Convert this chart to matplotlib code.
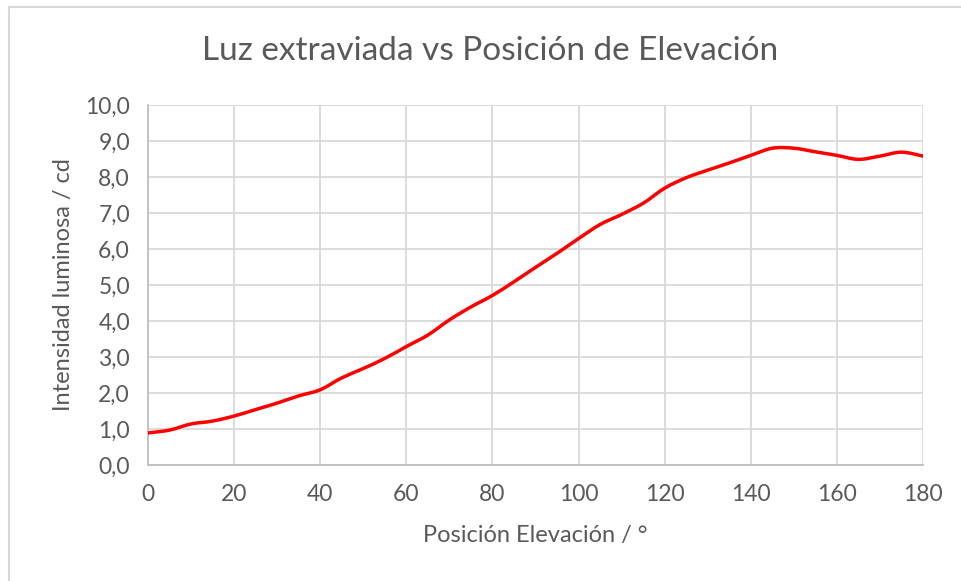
import matplotlib.pyplot as plt
from matplotlib.path import Path
from matplotlib.patches import PathPatch, Rectangle
import numpy as np

plt.rcParams['font.family'] = ['Lato', 'DejaVu Sans']

# Elevation position (deg) and luminous intensity (cd)
posicion = [0, 5, 10, 15, 20, 25, 30, 35, 40, 45, 50, 55, 60, 65, 70, 75, 80, 85, 90,
            95, 100, 105, 110, 115, 120, 125, 130, 135, 140, 145, 150, 155, 160, 165,
            170, 175, 180]
intensidad = [0.89, 0.97, 1.14, 1.22, 1.36, 1.54, 1.72, 1.92, 2.09, 2.42, 2.68, 2.96,
              3.29, 3.61, 4.03, 4.39, 4.71, 5.09, 5.49, 5.88, 6.29, 6.68, 6.96, 7.27,
              7.69, 7.98, 8.19, 8.39, 8.60, 8.80, 8.80, 8.70, 8.60, 8.49, 8.58, 8.69,
              8.58]

gray = '#595959'
grid = '#d9d9d9'

fig = plt.figure(figsize=(9.61, 5.81), dpi=100)
ax = fig.add_axes([148 / 961, 116 / 581, 775 / 961, 360 / 581])

# Excel-style smoothed line: cubic Bezier segments through the points
x = np.array(posicion, dtype=float)
y = np.array(intensidad, dtype=float)
verts = [(x[0], y[0])]
codes = [Path.MOVETO]
n = len(x)
for i in range(n - 1):
    p0 = (x[max(i - 1, 0)], y[max(i - 1, 0)])
    p1 = (x[i], y[i])
    p2 = (x[i + 1], y[i + 1])
    p3 = (x[min(i + 2, n - 1)], y[min(i + 2, n - 1)])
    c1 = (p1[0] + (p2[0] - p0[0]) / 6, p1[1] + (p2[1] - p0[1]) / 6)
    c2 = (p2[0] - (p3[0] - p1[0]) / 6, p2[1] - (p3[1] - p1[1]) / 6)
    verts += [c1, c2, p2]
    codes += [Path.CURVE4] * 3
ax.add_patch(PathPatch(Path(verts, codes), facecolor='none', edgecolor='#ff0000',
                       lw=2.5, capstyle='round', joinstyle='round', zorder=3))

ax.set_xlim(0, 180)
ax.set_ylim(0, 10)
ax.set_xticks(np.arange(0, 181, 20))
ax.set_yticks(np.arange(0, 10.1, 1))
ax.set_yticklabels([f"{v:.1f}".replace('.', ',') for v in np.arange(0, 10.1, 1)])
ax.grid(True, color=grid, lw=1.3)
ax.set_axisbelow(True)
for s in ['top', 'right']:
    ax.spines[s].set_visible(False)
for s in ['left', 'bottom']:
    ax.spines[s].set_color('#bfbfbf')
    ax.spines[s].set_linewidth(1.3)
ax.tick_params(length=0, labelsize=16.5, labelcolor=gray)
ax.tick_params(axis='y', pad=13)
ax.tick_params(axis='x', pad=14)

ax.set_xlabel("Posición Elevación / °", fontsize=17, color=gray, labelpad=14)
ax.set_ylabel("Intensidad luminosa / cd", fontsize=17, color=gray, labelpad=8)
fig.text(0.51, 0.912, "Luz extraviada vs Posición de Elevación", ha='center', va='center',
         fontsize=24, color=gray)

# chart area border
fig.patches.append(Rectangle((9 / 961, -0.1), 1.1, (581 - 7) / 581 + 0.1,
                             transform=fig.transFigure, fill=False,
                             edgecolor='#d9d9d9', lw=1.5))

fig.savefig('out.png', dpi=100)
